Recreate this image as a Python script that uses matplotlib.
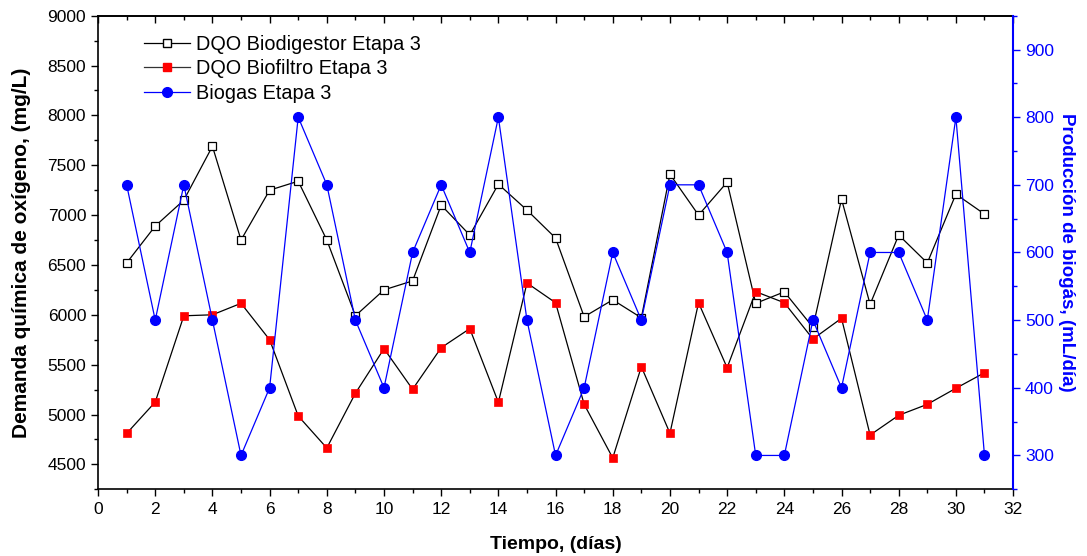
import matplotlib.pyplot as plt
from matplotlib.ticker import MultipleLocator
from matplotlib.lines import Line2D

plt.rcParams['font.family'] = ['Liberation Sans', 'DejaVu Sans']

dias = list(range(1, 32))
dqo_biodigestor = [6520, 6890, 7150, 7690, 6750, 7250, 7340, 6750, 5990, 6250,
                   6340, 7100, 6800, 7310, 7050, 6770, 5980, 6150, 5970, 7410,
                   7000, 7330, 6115, 6230, 5875, 7160, 6105, 6800, 6520, 7210, 7010]
dqo_biofiltro = [4810, 5125, 5990, 6000, 6115, 5750, 4985, 4664, 5213, 5660,
                 5253, 5670, 5861, 5122, 6319, 6121, 5102, 4564, 5479, 4812,
                 6121, 5469, 6232, 6121, 5757, 5965, 4794, 4992, 5102, 5263, 5419]
biogas = [700, 500, 700, 500, 300, 400, 800, 700, 500, 400,
          600, 700, 600, 800, 500, 300, 400, 600, 500, 700,
          700, 600, 300, 300, 500, 400, 600, 600, 500, 800, 300]

fig = plt.figure(figsize=(10.87, 5.56), dpi=100)
ax = fig.add_axes([0.0902, 0.120, 0.8418, 0.8518])

ax.plot(dias, dqo_biodigestor, '-', color='black', lw=0.9, marker='s', ms=5.5,
        mfc='white', mec='black', mew=0.9, zorder=3)
ax.plot(dias, dqo_biofiltro, '-', color='black', lw=0.9, marker='s', ms=5.5,
        mfc='red', mec='red', mew=0.5, zorder=3)

ax.set_xlim(0, 32)
ax.set_ylim(4250, 9000)
ax.xaxis.set_major_locator(MultipleLocator(2))
ax.xaxis.set_minor_locator(MultipleLocator(1))
ax.yaxis.set_major_locator(MultipleLocator(500))
ax.yaxis.set_minor_locator(MultipleLocator(250))
ax.tick_params(which='major', direction='out', length=5, width=1, labelsize=12.5)
ax.tick_params(which='minor', direction='out', length=3, width=1)
ax.tick_params(axis='x', pad=4)
for s in ['left', 'bottom', 'top']:
    ax.spines[s].set_linewidth(1.2)
ax.spines['right'].set_visible(False)

# ticks on top pointing inward
top = ax.secondary_xaxis('top')
top.xaxis.set_major_locator(MultipleLocator(2))
top.xaxis.set_minor_locator(MultipleLocator(1))
top.tick_params(which='major', direction='in', length=5, width=1, labeltop=False)
top.tick_params(which='minor', direction='in', length=3, width=1)
top.spines['top'].set_linewidth(1.2)

ax.set_xlabel('Tiempo, (días)', fontsize=14, fontweight='bold', labelpad=14)
ax.set_ylabel('Demanda química de oxígeno, (mg/L)', fontsize=15, fontweight='bold', labelpad=12)

ax2 = ax.twinx()
ax2.plot(dias, biogas, '-', color='blue', lw=0.9, marker='o', ms=7,
         mfc='blue', mec='blue', zorder=4)
ax2.set_ylim(250, 950)
ax2.yaxis.set_major_locator(MultipleLocator(100))
ax2.yaxis.set_minor_locator(MultipleLocator(50))
ax2.tick_params(which='major', direction='out', length=5, width=1, labelsize=12.5,
                colors='blue')
ax2.tick_params(which='minor', direction='out', length=3, width=1, colors='blue')
ax2.spines['right'].set_color('blue')
ax2.spines['right'].set_linewidth(1.5)
for s in ['left', 'bottom', 'top']:
    ax2.spines[s].set_visible(False)
ax2.set_ylabel('Producción de biogás, (mL/día)', fontsize=13.5, fontweight='bold',
               color='blue', rotation=270, labelpad=15)

handles = [
    Line2D([], [], color='black', lw=0.9, marker='s', ms=5.5, mfc='white', mec='black'),
    Line2D([], [], color='#333333', lw=0.9, marker='s', ms=5.5, mfc='red', mec='red'),
    Line2D([], [], color='blue', lw=0.9, marker='o', ms=7, mfc='blue', mec='blue'),
]
labels = ['DQO Biodigestor Etapa 3', 'DQO Biofiltro Etapa 3', 'Biogas Etapa 3']
ax2.legend(handles, labels, loc='upper left', bbox_to_anchor=(0.042, 0.977),
           frameon=False, fontsize=14.3, handlelength=2.3, handletextpad=0.3,
           labelspacing=0.28, borderaxespad=0)

fig.savefig('out.png', dpi=100)
